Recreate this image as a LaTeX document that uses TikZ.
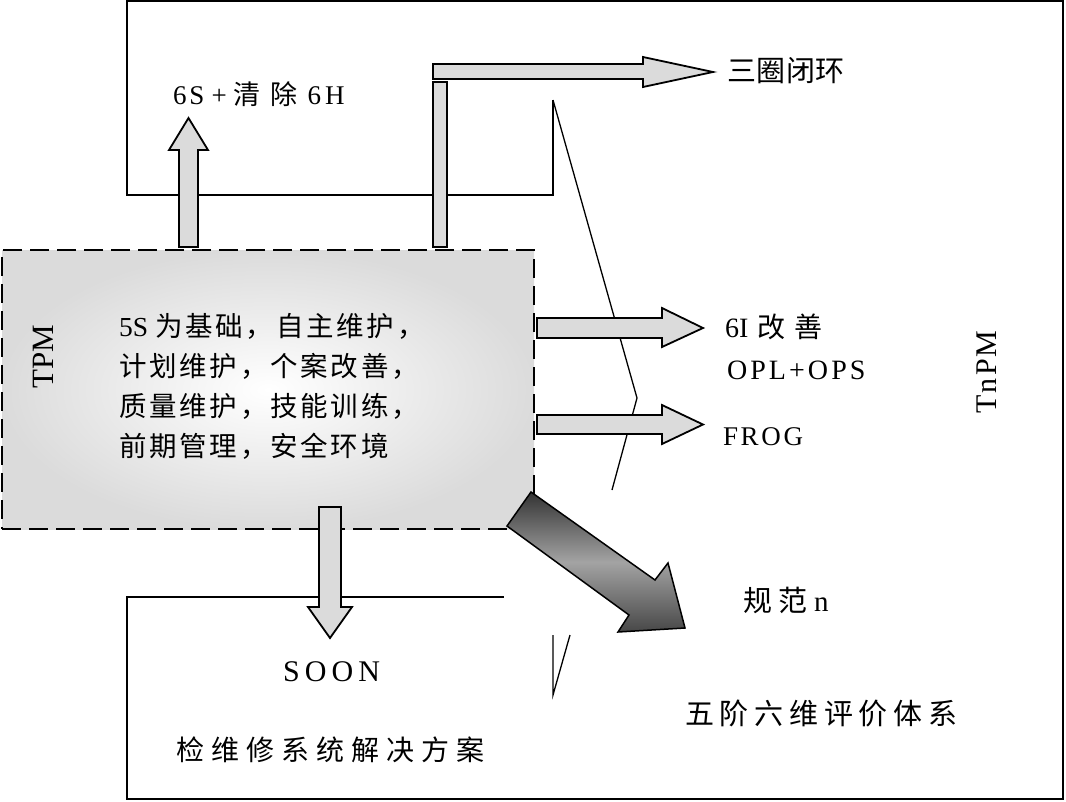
\documentclass[tikz,border=0pt]{standalone}
\usepackage{fontspec}
\setmainfont{Liberation Serif}
\newfontfamily\cjk{Noto Sans CJK SC}
\begin{document}
\begin{tikzpicture}[x=1pt,y=-1pt,
  frameline/.style={draw=black,line width=2.2pt,line join=miter},
  thinline/.style={draw=black,line width=1.3pt},
  blockarrow/.style={draw=black,line width=1.8pt,fill=black!14,line join=miter},
  darkarrow/.style={draw=black,line width=1.5pt,line join=miter,top color=black!80,bottom color=black!72,middle color=black!36},
  tpmbox/.style={draw=black,line width=2.2pt,dash pattern=on 19pt off 8pt,inner color=white,outer color=black!14},
  lbl/.style={inner sep=0pt,outer sep=0pt,text=black}]
\useasboundingbox (0,0) rectangle (1066,801);
\fill[white] (0,0) rectangle (1066,801);

% outer frame
\draw[frameline] (553,100) -- (553,195) -- (127,195) -- (127,1) -- (1063,1) -- (1063,799) -- (127,799) -- (127,597) -- (504,597);
% thin slanted lines
\draw[thinline] (553,100) -- (637,398) -- (612,490);
\draw[thinline] (553,635) -- (553,695) -- (570,635);

% TPM box
\node[tpmbox,minimum width=532pt,minimum height=279pt,anchor=north west,inner sep=0pt] (tpm) at (1,249) {};

% block arrows
\draw[blockarrow] (179,247) -- (179,150) -- (169,150) -- (188.5,118) -- (208,150) -- (198,150) -- (198,247) -- cycle;
\draw[blockarrow] (433,82) rectangle (447,247);
\draw[blockarrow] (433,64) -- (643,64) -- (643,57) -- (713,72) -- (643,87) -- (643,79) -- (433,79) -- cycle;
\draw[blockarrow] (537,318) -- (662,318) -- (662,308) -- (703,328) -- (662,347) -- (662,338) -- (537,338) -- cycle;
\draw[blockarrow] (537,415) -- (662,415) -- (662,405) -- (703,424.5) -- (662,444) -- (662,434) -- (537,434) -- cycle;
\draw[blockarrow] (319,507) -- (319,607) -- (308,607) -- (330,638) -- (352,607) -- (341,607) -- (341,507) -- cycle;
\draw[darkarrow] (531,492) -- (655,580) -- (668,563) -- (685,628) -- (618,632) -- (629,615) -- (507,526) -- cycle;

% box text
\node[lbl,anchor=north west,align=left,font=\fontsize{27.5pt}{40pt}\selectfont] (tpmtext) at (119,313)
 {5S\kern7pt{\cjk\addfontfeature{LetterSpace=10}为基础，自主维护，}\\
  {\cjk\addfontfeature{LetterSpace=10}计划维护，个案改善，}\\
  {\cjk\addfontfeature{LetterSpace=10}质量维护，技能训练，}\\
  {\cjk\addfontfeature{LetterSpace=10}前期管理，安全环境}};
\node[lbl,rotate=90,font=\fontsize{31pt}{31pt}\selectfont] (tpmlbl) at (43,357) {TPM};
\node[lbl,rotate=90,font=\fontsize{30pt}{30pt}\selectfont] (tnpm) at (987,372) {\addfontfeature{LetterSpace=7}TnPM};

% labels
\node[lbl,anchor=west,font=\fontsize{27pt}{27pt}\selectfont] (l6s) at (173,94)
 {6\kern3pt S\kern7pt +\kern7pt{\cjk 清\kern10pt 除}\kern10pt 6\kern4pt H};
\node[lbl,anchor=west,font=\fontsize{29pt}{29pt}\selectfont] (l3q) at (727,71)
 {\cjk\addfontfeature{LetterSpace=2}三圈闭环};
\node[lbl,anchor=west,font=\fontsize{28pt}{28pt}\selectfont] (l6i) at (725,327)
 {6I\kern9pt{\cjk 改\kern9pt 善}};
\node[lbl,anchor=west,font=\fontsize{28pt}{28pt}\selectfont] (lopl) at (727,370)
 {\addfontfeature{LetterSpace=11}OPL+OPS};
\node[lbl,anchor=west,font=\fontsize{27pt}{27pt}\selectfont] (lfrog) at (723,437)
 {\addfontfeature{LetterSpace=10}FROG};
\node[lbl,anchor=west,font=\fontsize{29pt}{29pt}\selectfont] (lgf) at (743,600)
 {{\cjk 规\kern7pt 范}\kern6pt n};
\node[lbl,anchor=west,font=\fontsize{29pt}{29pt}\selectfont] (l5j) at (685,714)
 {\cjk\addfontfeature{LetterSpace=20}五阶六维评价体系};
\node[lbl,anchor=west,font=\fontsize{30pt}{30pt}\selectfont] (lsoon) at (283,672)
 {\addfontfeature{LetterSpace=17}SOON};
\node[lbl,anchor=west,font=\fontsize{28pt}{28pt}\selectfont] (ljx) at (176,750)
 {\cjk\addfontfeature{LetterSpace=25}检维修系统解决方案};
\end{tikzpicture}
\end{document}
